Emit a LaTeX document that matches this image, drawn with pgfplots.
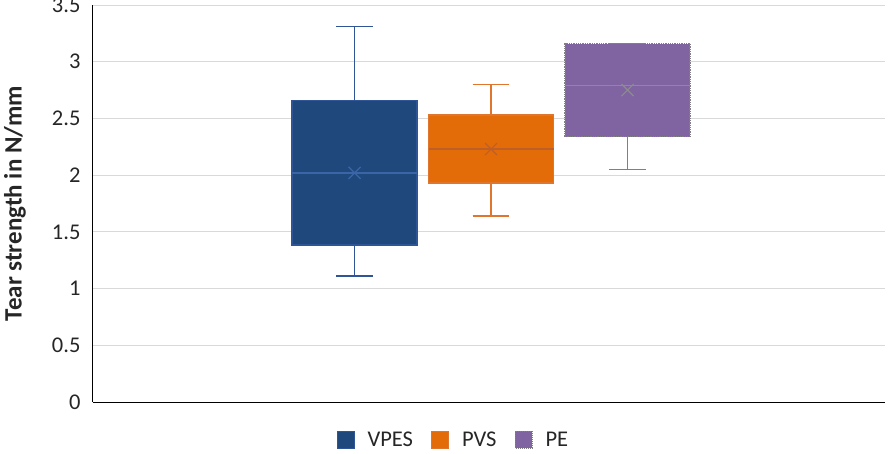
\documentclass[border=0pt]{standalone}
\usepackage{pgfplots}
\pgfplotsset{compat=1.18}
\usepgfplotslibrary{statistics}
\usepackage{fontspec}
\setmainfont{Carlito}
\definecolor{vpes}{RGB}{31,73,125}
\definecolor{vpesline}{RGB}{47,85,151}
\definecolor{vpesmed}{RGB}{58,102,167}
\definecolor{pvs}{RGB}{227,108,9}
\definecolor{pvsline}{RGB}{224,117,45}
\definecolor{pvsmed}{RGB}{190,95,40}
\definecolor{pe}{RGB}{128,100,162}
\definecolor{peline}{RGB}{128,128,128}
\definecolor{pemed}{RGB}{140,140,140}
\definecolor{txt}{RGB}{38,38,38}
\begin{document}
\begin{tikzpicture}
\path[use as bounding box] (-93pt,-51pt) rectangle (803pt,402pt);
\begin{axis}[
  at={(0,0)}, anchor=south west,
  width=792pt, height=397pt, scale only axis,
  xmin=-0.916, xmax=4.886, ymin=0, ymax=3.5,
  axis x line*=bottom, axis y line*=left,
  axis line style={-, black, line width=1pt},
  xtick=\empty,
  ytick={0,0.5,1,1.5,2,2.5,3,3.5},
  yticklabels={0,0.5,1,1.5,2,2.5,3,3.5},
  ymajorgrids, grid style={gray!30, line width=1pt},
  major tick length=0pt,
  tick label style={font=\fontsize{22.5}{22.5}\selectfont, text=txt},
  yticklabel style={xshift=-9pt},
  ylabel={\textbf{Tear strength in N/mm}},
  every axis y label/.style={at={(axis description cs:0,0.5)}, xshift=-78pt, rotate=90, anchor=center, font=\fontsize{25}{25}\selectfont, text=txt},
  boxplot/draw direction=y,
  legend style={at={(0.455,-0.0957)}, anchor=center, draw=none, fill=none,
    legend columns=3, font=\fontsize{22.5}{22.5}\selectfont, text=txt,
    /tikz/every even column/.append style={column sep=16pt}},
  legend image code/.code={\draw[#1] (0pt,-8.5pt) rectangle (17pt,8.5pt); \path (28pt,0pt);},
]
\addplot[boxplot prepared={draw position=1, lower whisker=1.11, lower quartile=1.385, median=2.02, upper quartile=2.66, upper whisker=3.31, box extend=0.916, whisker extend=0.27},
  fill=vpes, draw=vpesline, line width=1.3pt,
  boxplot/every median/.style={draw=vpesmed, line width=1.3pt}, forget plot] coordinates {};
\addplot[boxplot prepared={draw position=2, lower whisker=1.64, lower quartile=1.93, median=2.23, upper quartile=2.53, upper whisker=2.80, box extend=0.916, whisker extend=0.27},
  fill=pvs, draw=pvsline, line width=1.3pt,
  boxplot/every median/.style={draw=pvsmed, line width=1.3pt}, forget plot] coordinates {};
\addplot[boxplot prepared={draw position=3, lower whisker=2.05, lower quartile=2.34, median=2.79, upper quartile=3.16, upper whisker=3.16, box extend=0.916, whisker extend=0.27},
  fill=pe, draw=peline, line width=1.3pt,
  boxplot/every box/.style={densely dotted},
  boxplot/every median/.style={draw=pemed, line width=1.3pt}, forget plot] coordinates {};
\addplot[only marks, mark=x, mark size=8.5pt, mark options={draw=vpesmed, line width=1.2pt}, forget plot] coordinates {(1,2.02)};
\addplot[only marks, mark=x, mark size=8.5pt, mark options={draw=pvsmed, line width=1.2pt}, forget plot] coordinates {(2,2.23)};
\addplot[only marks, mark=x, mark size=8.5pt, mark options={draw=pemed, line width=1.2pt}, forget plot] coordinates {(3,2.75)};
\addlegendimage{fill=vpes, draw=vpesline, line width=1pt}
\addlegendentry{VPES}
\addlegendimage{fill=pvs, draw=pvsline, line width=1pt}
\addlegendentry{PVS}
\addlegendimage{fill=pe, draw=peline, densely dotted, line width=1pt}
\addlegendentry{PE}
\end{axis}
\end{tikzpicture}
\end{document}
